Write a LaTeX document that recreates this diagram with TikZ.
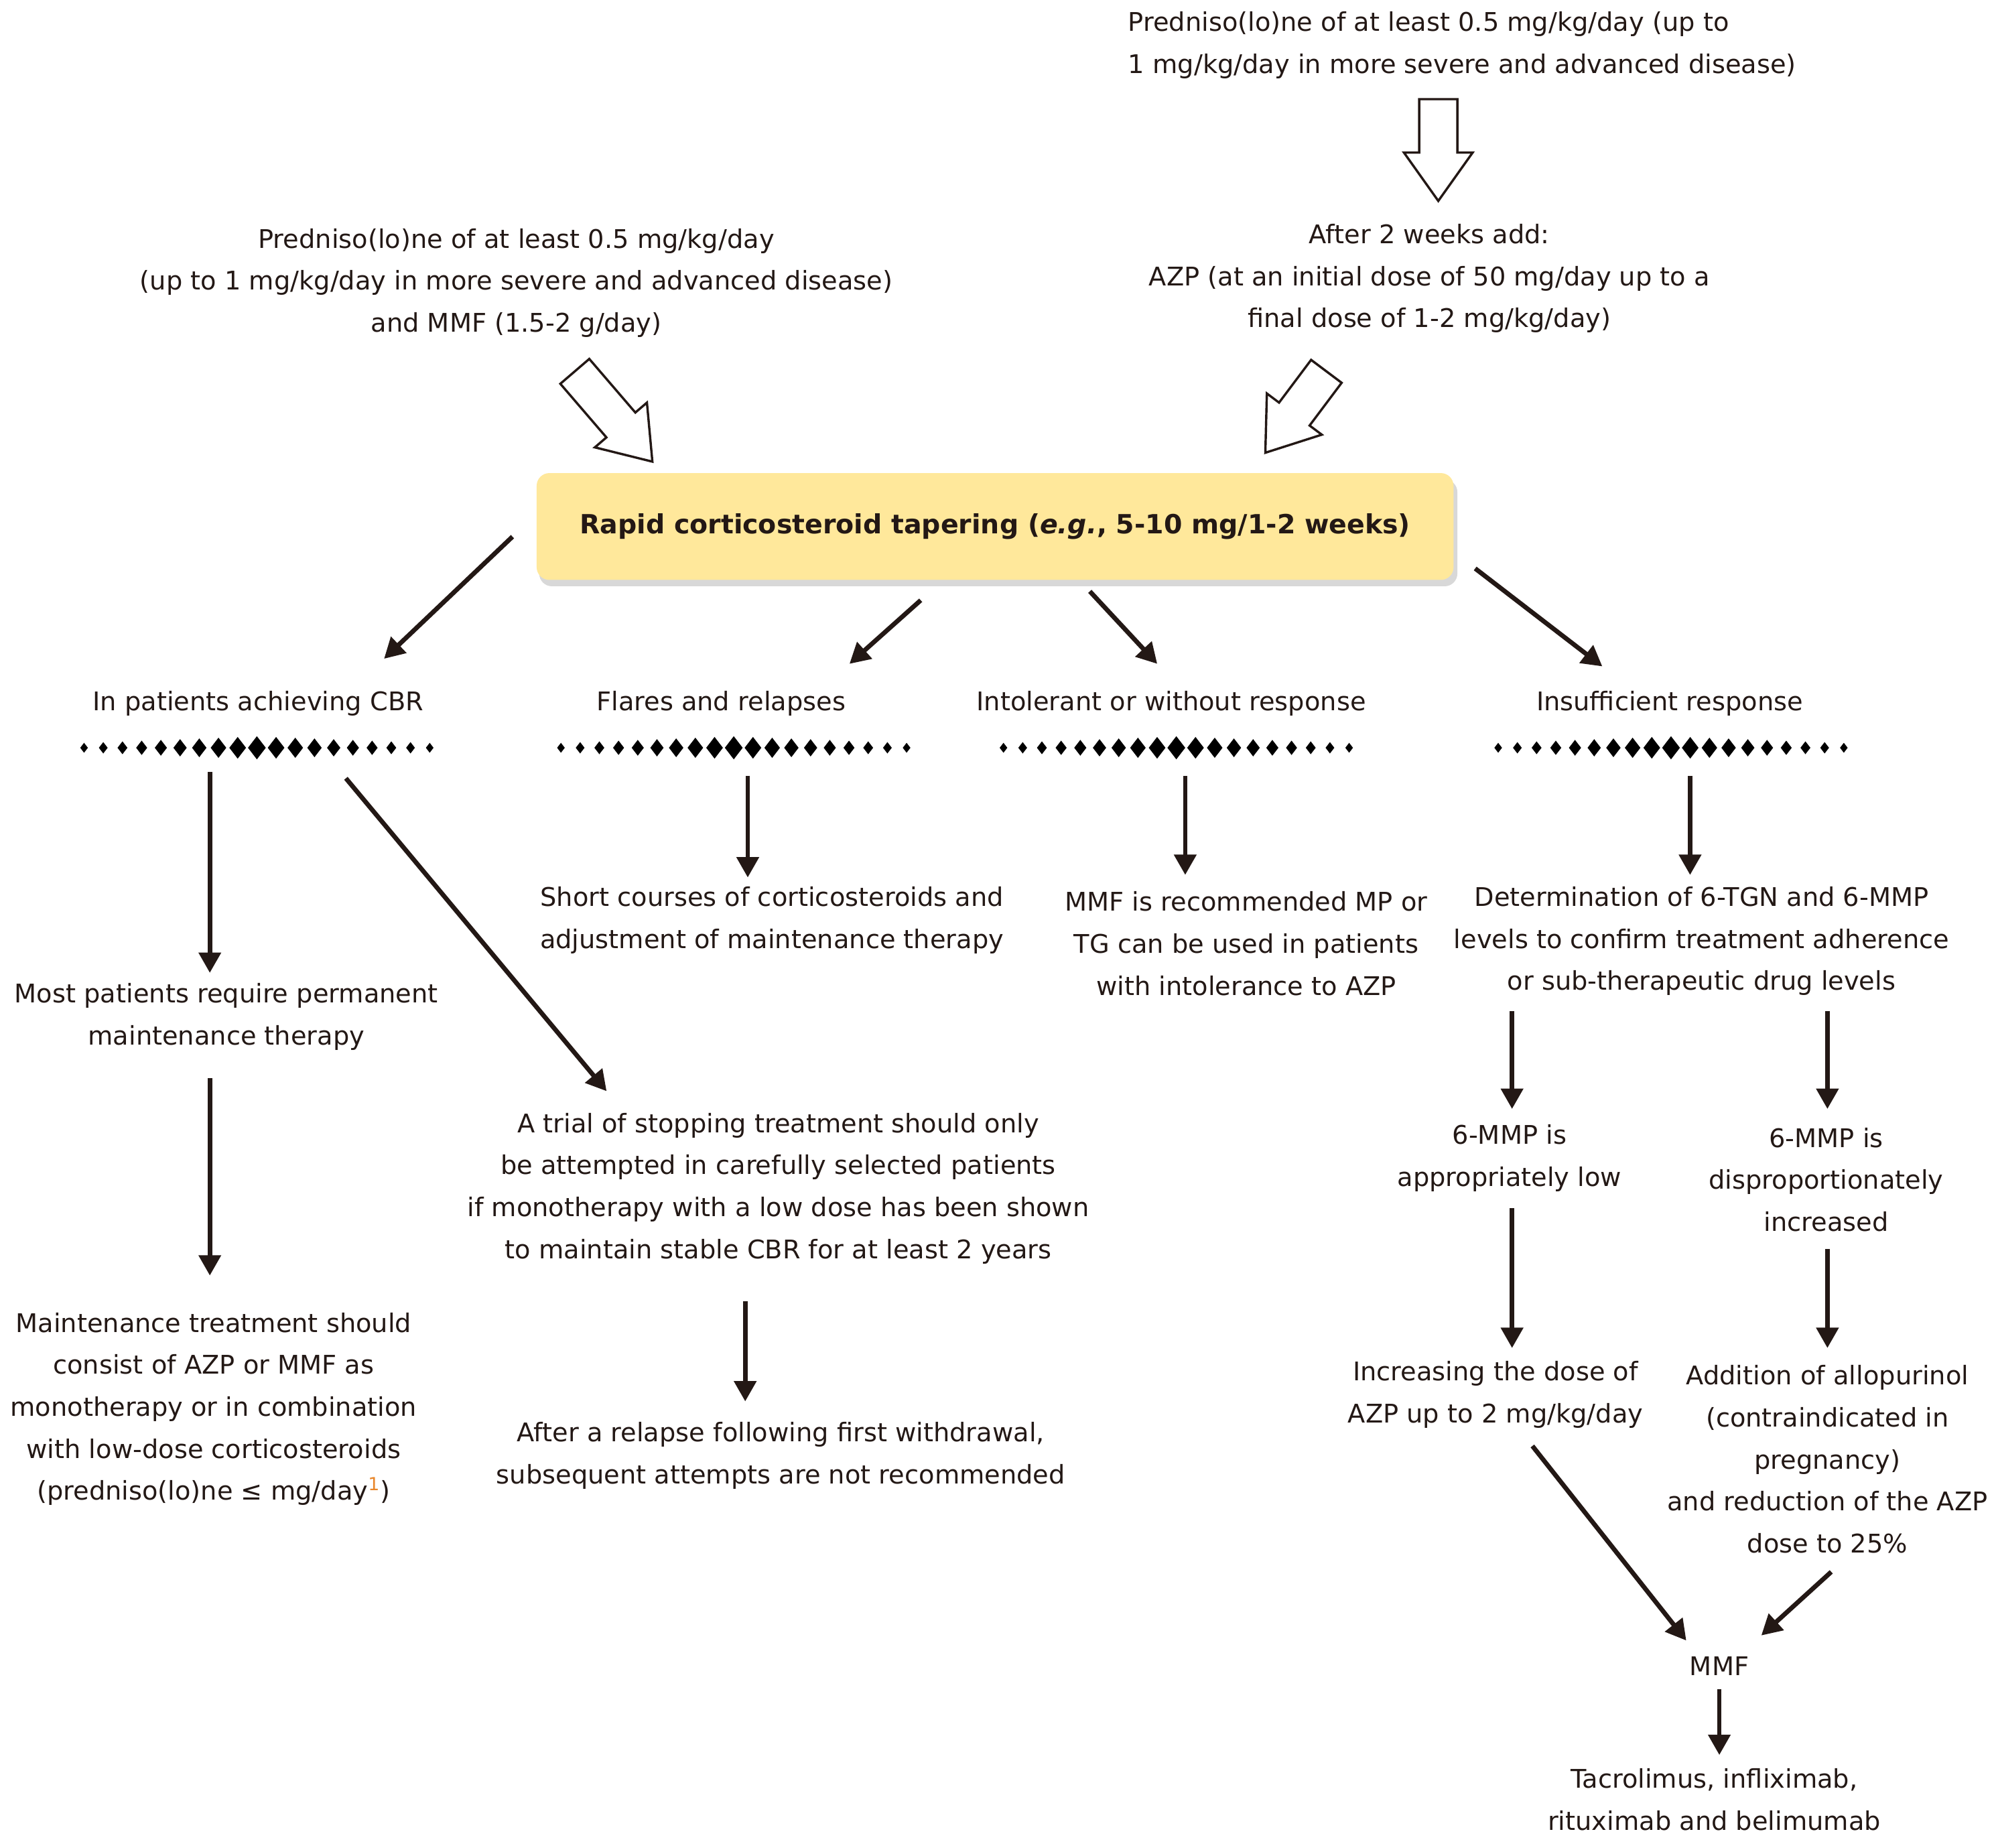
\documentclass[tikz,border=0pt]{standalone}
\usepackage{fontspec}
\setmainfont{DejaVu Sans}
\usetikzlibrary{arrows.meta,calc}
\definecolor{ink}{HTML}{231815}
\definecolor{boxy}{RGB}{255,232,155}
\definecolor{fnor}{HTML}{E8862A}
\begin{document}
\begin{tikzpicture}[x=1pt,y=-1pt,
  t/.style={align=center,inner sep=0pt,font=\fontsize{20.2}{33}\selectfont,text=ink},
  arr/.style={draw=ink,line width=3.6pt,-{Triangle[length=16pt,width=17pt]}},
  blk/.style={draw=ink,line width=1.8pt,fill=white,line join=miter}]
\useasboundingbox (0,0) rectangle (1568,1453);
\newcommand\blockarr[2]{%
  \coordinate (ba) at #1; \coordinate (bb) at #2;
  \coordinate (bm) at ($(bb)!38pt!(ba)$);
  \draw[blk] ($(ba)!15pt!90:(bb)$) -- ($(bm)!15pt!90:(bb)$) -- ($(bm)!27pt!90:(bb)$) -- (bb)
    -- ($(bm)!27pt!-90:(bb)$) -- ($(bm)!15pt!-90:(bb)$) -- ($(ba)!15pt!-90:(bb)$) -- cycle;}
\newcommand\dotrow[2]{%
  \foreach \i in {0,...,18}{%
    \pgfmathsetmacro\r{3.0+4.0*(1-abs(\i-9)/9)}
    \pgfmathsetmacro\xx{#1+(\i-9)*15.1}
    \fill[black] (\xx,#2-\r*1.3) -- (\xx+\r,#2) -- (\xx,#2+\r*1.3) -- (\xx-\r,#2) -- cycle;}}
% top texts
\node[t,align=left,anchor=west] (top) at (887,35.5) {Predniso(lo)ne of at least 0.5 mg/kg/day (up to\\1 mg/kg/day in more severe and advanced disease)};
\blockarr{(1131,78)}{(1131,158)}
\node[t] (after) at (1124,219) {After 2 weeks add:\\AZP (at an initial dose of 50 mg/day up to a\\final dose of 1-2 mg/kg/day)};
\node[t] (left) at (406,222.5) {Predniso(lo)ne of at least 0.5 mg/kg/day\\(up to 1 mg/kg/day in more severe and advanced disease)\\and MMF (1.5-2 g/day)};
\blockarr{(452,292)}{(513,363)}
\blockarr{(1043,292)}{(995,356)}
% main box
\fill[black!30,opacity=0.5,rounded corners=10pt] (424,377) rectangle (1146,461);
\node[fill=boxy,rounded corners=10pt,minimum width=721pt,minimum height=84pt,inner sep=0pt,
  font=\fontsize{20.8}{33}\selectfont\bfseries,text=ink] (box) at (782.5,414) {Rapid corticosteroid tapering (\textit{e.g.}, 5-10 mg/1-2 weeks)};
\draw[arr] (403,422) -- (302,518);
\draw[arr] (724,472) -- (668,522);
\draw[arr] (857,465) -- (910,522);
\draw[arr] (1160,447) -- (1260,524);
% headers
\node[t] (h1) at (203,553) {In patients achieving CBR};
\node[t] (h2) at (567,553) {Flares and relapses};
\node[t] (h3) at (921,553) {Intolerant or without response};
\node[t] (h4) at (1313,553) {Insufficient response};
\dotrow{202}{588}\dotrow{577}{588}\dotrow{925}{588}\dotrow{1314}{588}
\draw[arr] (165,607) -- (165,765);
\draw[arr] (272,612) -- (477,858);
\draw[arr] (588,610) -- (588,690);
\draw[arr] (932,610) -- (932,688);
\draw[arr] (1329,610) -- (1329,688);
\node[t] (short) at (607,723.5) {Short courses of corticosteroids and\\adjustment of maintenance therapy};
\node[t] (mmfrec) at (980,742) {MMF is recommended MP or\\TG can be used in patients\\with intolerance to AZP};
\node[t] (det) at (1338,740) {Determination of 6-TGN and 6-MMP\\levels to confirm treatment adherence\\or sub-therapeutic drug levels};
\node[t] (most) at (178,799.5) {Most patients require permanent\\maintenance therapy};
\draw[arr] (165,848) -- (165,1003);
\node[t] (trial) at (612,934.5) {A trial of stopping treatment should only\\be attempted in carefully selected patients\\if monotherapy with a low dose has been shown\\to maintain stable CBR for at least 2 years};
\draw[arr] (586,1023) -- (586,1102);
\node[t] (relapse) at (614,1144.5) {After a relapse following first withdrawal,\\subsequent attempts are not recommended};
\node[t] (maint) at (168,1108) {Maintenance treatment should\\consist of AZP or MMF as\\monotherapy or in combination\\with low-dose corticosteroids\\(predniso(lo)ne ≤ mg/day\textsuperscript{\textcolor{fnor}{1}})};
\draw[arr] (1189,795) -- (1189,872);
\draw[arr] (1437,795) -- (1437,872);
\node[t] (low) at (1187,910.5) {6-MMP is\\appropriately low};
\node[t] (high) at (1436,927.5) {6-MMP is\\disproportionately\\increased};
\draw[arr] (1189,950) -- (1189,1060);
\draw[arr] (1437,982) -- (1437,1060);
\node[t] (incr) at (1176,1096.5) {Increasing the dose of\\AZP up to 2 mg/kg/day};
\node[t] (allo) at (1437,1147.5) {Addition of allopurinol\\(contraindicated in\\pregnancy)\\and reduction of the AZP\\dose to 25\%};
\draw[arr] (1205,1137) -- (1326,1290);
\draw[arr] (1440,1236) -- (1385,1286);
\node[t] (mmf) at (1352,1310) {MMF};
\draw[arr] (1352,1328) -- (1352,1380);
\node[t] (tacro) at (1348,1415) {Tacrolimus, infliximab,\\rituximab and belimumab};
\end{tikzpicture}
\end{document}
